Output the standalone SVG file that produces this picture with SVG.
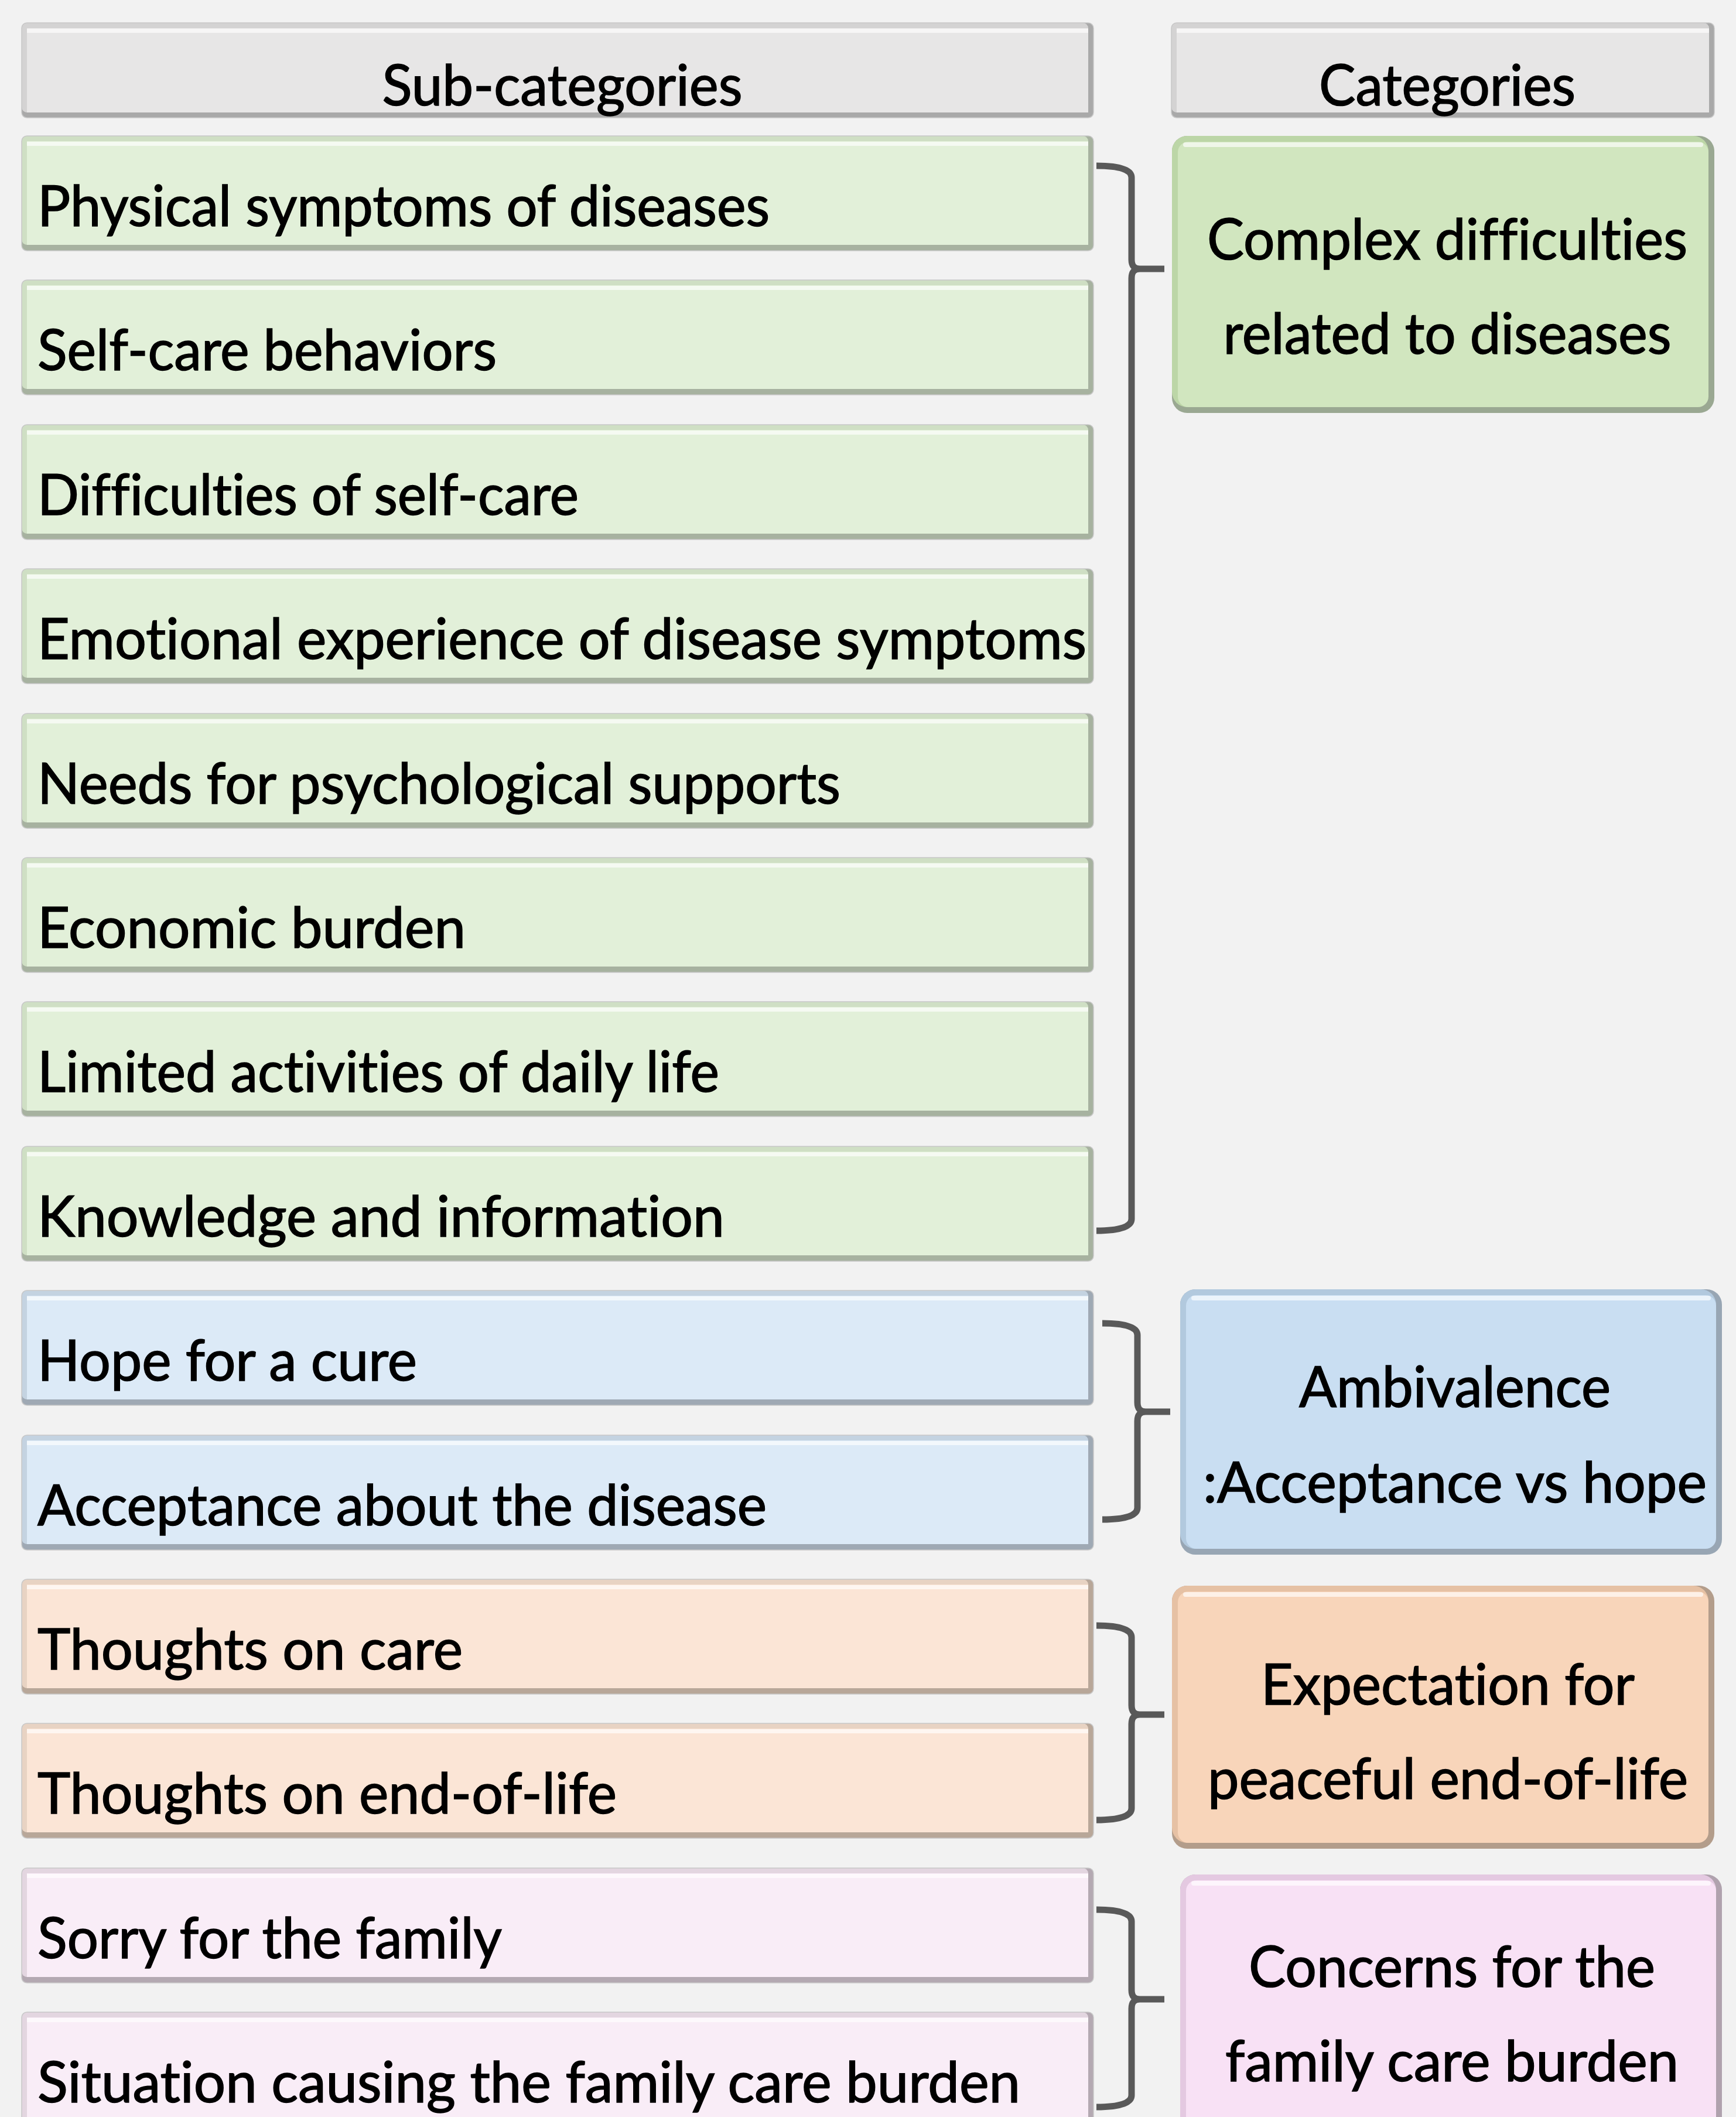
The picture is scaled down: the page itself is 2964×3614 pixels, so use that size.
<svg xmlns="http://www.w3.org/2000/svg" width="2964" height="3614" viewBox="0 0 2964 3614">
<style>
  text { font-family: Lato, "Open Sans", "Noto Sans", sans-serif; font-size: 96px; fill: #000; stroke: #000; stroke-width: 1.6; font-variant-ligatures: none; font-feature-settings: "liga" 0, "clig" 0; }
  .sub { text-anchor: start; }
  .cat { text-anchor: middle; }
  .hl { fill: #ffffff; opacity: 0.65; }
  .edge { stroke: #c8c8c8; stroke-width: 1.5; fill: none; }
  .brace { fill: none; stroke: #595959; stroke-width: 11; stroke-linejoin: miter; stroke-linecap: butt; }
  .gy-d { fill: #a9a9a9; } .gy-s { fill: #d4d3d3; } .gy-f { fill: #e7e6e6; }
  .gr-d { fill: #a7b2a0; } .gr-s { fill: #cfdfc4; } .gr-f { fill: #e2f0d9; }
  .bl-d { fill: #9fa9b4; } .bl-s { fill: #c4d3e1; } .bl-f { fill: #dceaf7; }
  .or-d { fill: #b8a799; } .or-s { fill: #e8d3c3; } .or-f { fill: #fbe5d6; }
  .pk-d { fill: #b4a9b2; } .pk-s { fill: #e3d6e0; } .pk-f { fill: #f9edf7; }
  .grc-d { fill: #9aa892; } .grc-s { fill: #bcd6a7; } .grc-f { fill: #d1e6bf; }
  .blc-d { fill: #98a6b4; } .blc-s { fill: #b2c9de; } .blc-f { fill: #c9def2; }
  .orc-d { fill: #b39d8b; } .orc-s { fill: #e6c1a4; } .orc-f { fill: #f8d5ba; }
  .pkc-d { fill: #b0a2ae; } .pkc-s { fill: #e4c9e1; } .pkc-f { fill: #f8e1f5; }
</style>
<rect x="0" y="0" width="2964" height="3614" fill="#f2f2f2"/>

<!-- Headers -->
<g id="header-sub">
  <rect class="gy-d" x="37" y="39" width="1830" height="162" rx="9"/>
  <rect class="gy-s" x="37" y="39" width="1821" height="153" rx="9"/>
  <rect class="gy-f" x="46" y="48" width="1812" height="144"/>
  <rect class="hl" x="46" y="49" width="1812" height="7"/>
  <rect class="edge" x="37" y="39" width="1830" height="162" rx="9"/>
  <text class="cat" x="960" y="180" textLength="615" lengthAdjust="spacingAndGlyphs">Sub-categories</text>
</g>
<g id="header-cat">
  <rect class="gy-d" x="2000" y="39" width="927" height="162" rx="9"/>
  <rect class="gy-s" x="2000" y="39" width="918" height="153" rx="9"/>
  <rect class="gy-f" x="2009" y="48" width="909" height="144"/>
  <rect class="hl" x="2009" y="49" width="909" height="7"/>
  <rect class="edge" x="2000" y="39" width="927" height="162" rx="9"/>
  <text class="cat" x="2471" y="180" textLength="438" lengthAdjust="spacingAndGlyphs">Categories</text>
</g>

<!-- Sub-category boxes -->
<g id="sub-01">
  <rect class="gr-d" x="37" y="232" width="1830" height="196" rx="9"/>
  <rect class="gr-s" x="37" y="232" width="1821" height="186" rx="9"/>
  <rect class="gr-f" x="46" y="241" width="1812" height="177"/>
  <rect class="hl" x="46" y="242" width="1812" height="7"/>
  <rect class="edge" x="37" y="232" width="1830" height="196" rx="9"/>
  <text class="sub" x="64" y="386" textLength="1250" lengthAdjust="spacingAndGlyphs">Physical symptoms of diseases</text>
</g>
<g id="sub-02">
  <rect class="gr-d" x="37" y="478" width="1830" height="196" rx="9"/>
  <rect class="gr-s" x="37" y="478" width="1821" height="186" rx="9"/>
  <rect class="gr-f" x="46" y="487" width="1812" height="177"/>
  <rect class="hl" x="46" y="488" width="1812" height="7"/>
  <rect class="edge" x="37" y="478" width="1830" height="196" rx="9"/>
  <text class="sub" x="64" y="632" textLength="784" lengthAdjust="spacingAndGlyphs">Self-care behaviors</text>
</g>
<g id="sub-03">
  <rect class="gr-d" x="37" y="725" width="1830" height="196" rx="9"/>
  <rect class="gr-s" x="37" y="725" width="1821" height="186" rx="9"/>
  <rect class="gr-f" x="46" y="734" width="1812" height="177"/>
  <rect class="hl" x="46" y="735" width="1812" height="7"/>
  <rect class="edge" x="37" y="725" width="1830" height="196" rx="9"/>
  <text class="sub" x="64" y="879" textLength="924" lengthAdjust="spacingAndGlyphs">Difficulties of self-care</text>
</g>
<g id="sub-04">
  <rect class="gr-d" x="37" y="971" width="1830" height="196" rx="9"/>
  <rect class="gr-s" x="37" y="971" width="1821" height="186" rx="9"/>
  <rect class="gr-f" x="46" y="980" width="1812" height="177"/>
  <rect class="hl" x="46" y="981" width="1812" height="7"/>
  <rect class="edge" x="37" y="971" width="1830" height="196" rx="9"/>
  <text class="sub" x="64" y="1125" textLength="1791" lengthAdjust="spacingAndGlyphs">Emotional experience of disease symptoms</text>
</g>
<g id="sub-05">
  <rect class="gr-d" x="37" y="1218" width="1830" height="196" rx="9"/>
  <rect class="gr-s" x="37" y="1218" width="1821" height="186" rx="9"/>
  <rect class="gr-f" x="46" y="1227" width="1812" height="177"/>
  <rect class="hl" x="46" y="1228" width="1812" height="7"/>
  <rect class="edge" x="37" y="1218" width="1830" height="196" rx="9"/>
  <text class="sub" x="64" y="1372" textLength="1371" lengthAdjust="spacingAndGlyphs">Needs for psychological supports</text>
</g>
<g id="sub-06">
  <rect class="gr-d" x="37" y="1464" width="1830" height="196" rx="9"/>
  <rect class="gr-s" x="37" y="1464" width="1821" height="186" rx="9"/>
  <rect class="gr-f" x="46" y="1473" width="1812" height="177"/>
  <rect class="hl" x="46" y="1474" width="1812" height="7"/>
  <rect class="edge" x="37" y="1464" width="1830" height="196" rx="9"/>
  <text class="sub" x="64" y="1618" textLength="731" lengthAdjust="spacingAndGlyphs">Economic burden</text>
</g>
<g id="sub-07">
  <rect class="gr-d" x="37" y="1710" width="1830" height="196" rx="9"/>
  <rect class="gr-s" x="37" y="1710" width="1821" height="186" rx="9"/>
  <rect class="gr-f" x="46" y="1719" width="1812" height="177"/>
  <rect class="hl" x="46" y="1720" width="1812" height="7"/>
  <rect class="edge" x="37" y="1710" width="1830" height="196" rx="9"/>
  <text class="sub" x="64" y="1864" textLength="1164" lengthAdjust="spacingAndGlyphs">Limited activities of daily life</text>
</g>
<g id="sub-08">
  <rect class="gr-d" x="37" y="1957" width="1830" height="196" rx="9"/>
  <rect class="gr-s" x="37" y="1957" width="1821" height="186" rx="9"/>
  <rect class="gr-f" x="46" y="1966" width="1812" height="177"/>
  <rect class="hl" x="46" y="1967" width="1812" height="7"/>
  <rect class="edge" x="37" y="1957" width="1830" height="196" rx="9"/>
  <text class="sub" x="64" y="2111" textLength="1173" lengthAdjust="spacingAndGlyphs">Knowledge and information</text>
</g>
<g id="sub-09">
  <rect class="bl-d" x="37" y="2203" width="1830" height="196" rx="9"/>
  <rect class="bl-s" x="37" y="2203" width="1821" height="186" rx="9"/>
  <rect class="bl-f" x="46" y="2212" width="1812" height="177"/>
  <rect class="hl" x="46" y="2213" width="1812" height="7"/>
  <rect class="edge" x="37" y="2203" width="1830" height="196" rx="9"/>
  <text class="sub" x="64" y="2357" textLength="648" lengthAdjust="spacingAndGlyphs">Hope for a cure</text>
</g>
<g id="sub-10">
  <rect class="bl-d" x="37" y="2450" width="1830" height="196" rx="9"/>
  <rect class="bl-s" x="37" y="2450" width="1821" height="186" rx="9"/>
  <rect class="bl-f" x="46" y="2459" width="1812" height="177"/>
  <rect class="hl" x="46" y="2460" width="1812" height="7"/>
  <rect class="edge" x="37" y="2450" width="1830" height="196" rx="9"/>
  <text class="sub" x="64" y="2604" textLength="1245" lengthAdjust="spacingAndGlyphs">Acceptance about the disease</text>
</g>
<g id="sub-11">
  <rect class="or-d" x="37" y="2696" width="1830" height="196" rx="9"/>
  <rect class="or-s" x="37" y="2696" width="1821" height="186" rx="9"/>
  <rect class="or-f" x="46" y="2705" width="1812" height="177"/>
  <rect class="hl" x="46" y="2706" width="1812" height="7"/>
  <rect class="edge" x="37" y="2696" width="1830" height="196" rx="9"/>
  <text class="sub" x="64" y="2850" textLength="726" lengthAdjust="spacingAndGlyphs">Thoughts on care</text>
</g>
<g id="sub-12">
  <rect class="or-d" x="37" y="2942" width="1830" height="196" rx="9"/>
  <rect class="or-s" x="37" y="2942" width="1821" height="186" rx="9"/>
  <rect class="or-f" x="46" y="2951" width="1812" height="177"/>
  <rect class="hl" x="46" y="2952" width="1812" height="7"/>
  <rect class="edge" x="37" y="2942" width="1830" height="196" rx="9"/>
  <text class="sub" x="64" y="3096" textLength="989" lengthAdjust="spacingAndGlyphs">Thoughts on end-of-life</text>
</g>
<g id="sub-13">
  <rect class="pk-d" x="37" y="3189" width="1830" height="196" rx="9"/>
  <rect class="pk-s" x="37" y="3189" width="1821" height="186" rx="9"/>
  <rect class="pk-f" x="46" y="3198" width="1812" height="177"/>
  <rect class="hl" x="46" y="3199" width="1812" height="7"/>
  <rect class="edge" x="37" y="3189" width="1830" height="196" rx="9"/>
  <text class="sub" x="64" y="3343" textLength="793" lengthAdjust="spacingAndGlyphs">Sorry for the family</text>
</g>
<g id="sub-14">
  <rect class="pk-d" x="37" y="3435" width="1830" height="196" rx="9"/>
  <rect class="pk-s" x="37" y="3435" width="1821" height="186" rx="9"/>
  <rect class="pk-f" x="46" y="3444" width="1812" height="177"/>
  <rect class="hl" x="46" y="3445" width="1812" height="7"/>
  <rect class="edge" x="37" y="3435" width="1830" height="196" rx="9"/>
  <text class="sub" x="64" y="3589" textLength="1678" lengthAdjust="spacingAndGlyphs">Situation causing the family care burden</text>
</g>

<!-- Category boxes -->
<g id="cat-1">
  <rect class="grc-d" x="2001" y="232" width="926" height="473" rx="26"/>
  <rect class="grc-s" x="2001" y="232" width="916" height="463" rx="26"/>
  <rect class="grc-f" x="2011" y="242" width="906" height="453" rx="18"/>
  <rect class="hl" x="2020" y="243" width="888" height="8" rx="4"/>
  <text class="cat" x="2471" y="443" textLength="820" lengthAdjust="spacingAndGlyphs">Complex difficulties</text>
  <text class="cat" x="2471" y="604" textLength="765" lengthAdjust="spacingAndGlyphs">related to diseases</text>
</g>
<g id="cat-2">
  <rect class="blc-d" x="2015" y="2201" width="925" height="453" rx="26"/>
  <rect class="blc-s" x="2015" y="2201" width="915" height="443" rx="26"/>
  <rect class="blc-f" x="2025" y="2211" width="905" height="433" rx="18"/>
  <rect class="hl" x="2034" y="2212" width="887" height="8" rx="4"/>
  <text class="cat" x="2484" y="2402" textLength="532" lengthAdjust="spacingAndGlyphs">Ambivalence</text>
  <text class="cat" x="2484" y="2565" textLength="860" lengthAdjust="spacingAndGlyphs">:Acceptance vs hope</text>
</g>
<g id="cat-3">
  <rect class="orc-d" x="2001" y="2707" width="926" height="449" rx="26"/>
  <rect class="orc-s" x="2001" y="2707" width="916" height="439" rx="26"/>
  <rect class="orc-f" x="2011" y="2717" width="906" height="429" rx="18"/>
  <rect class="hl" x="2020" y="2718" width="888" height="8" rx="4"/>
  <text class="cat" x="2472" y="2910" textLength="638" lengthAdjust="spacingAndGlyphs">Expectation for</text>
  <text class="cat" x="2472" y="3071" textLength="820" lengthAdjust="spacingAndGlyphs">peaceful end-of-life</text>
</g>
<g id="cat-4">
  <rect class="pkc-d" x="2015" y="3200" width="925" height="480" rx="26"/>
  <rect class="pkc-s" x="2015" y="3200" width="915" height="470" rx="26"/>
  <rect class="pkc-f" x="2025" y="3210" width="905" height="460" rx="18"/>
  <rect class="hl" x="2034" y="3211" width="887" height="8" rx="4"/>
  <text class="cat" x="2479" y="3392" textLength="694" lengthAdjust="spacingAndGlyphs">Concerns for the</text>
  <text class="cat" x="2479" y="3553" textLength="774" lengthAdjust="spacingAndGlyphs">family care burden</text>
</g>

<!-- Connectors (braces) -->
<g id="connectors">
  <path class="brace" d="M1872,283 Q1932,283 1932,303 L1932,443 Q1932,459 1946,459 L1988,459 M1946,459 Q1932,459 1932,475 L1932,2081 Q1932,2101 1872,2101"/>
  <path class="brace" d="M1882,2259 Q1942,2259 1942,2279 L1942,2394 Q1942,2410 1956,2410 L1998,2410 M1956,2410 Q1942,2410 1942,2426 L1942,2574 Q1942,2594 1882,2594"/>
  <path class="brace" d="M1872,2775 Q1932,2775 1932,2795 L1932,2911 Q1932,2927 1946,2927 L1988,2927 M1946,2927 Q1932,2927 1932,2943 L1932,3087 Q1932,3107 1872,3107"/>
  <path class="brace" d="M1872,3260 Q1932,3260 1932,3280 L1932,3397 Q1932,3413 1946,3413 L1988,3413 M1946,3413 Q1932,3413 1932,3429 L1932,3577 Q1932,3597 1872,3597"/>
</g>
</svg>
